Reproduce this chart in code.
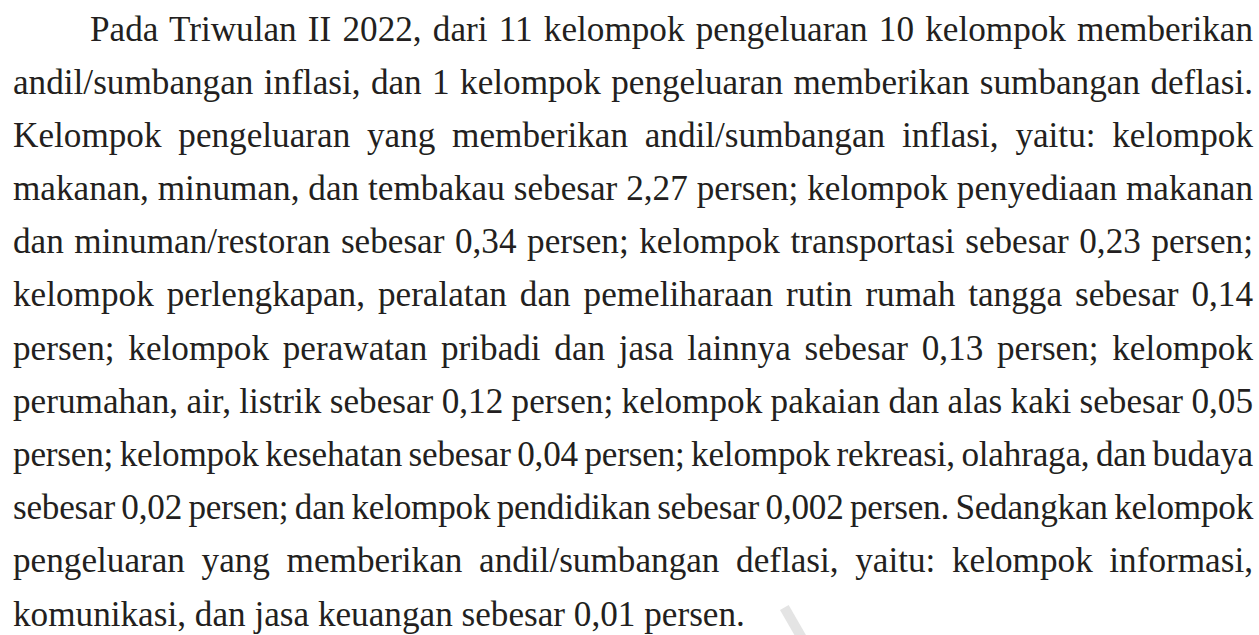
<!DOCTYPE html>
<html>
<head>
<meta charset="utf-8">
<script src="https://cdn.jsdelivr.net/npm/chart.js@4.4.0/dist/chart.umd.min.js"></script>
<style>
  html, body { margin: 0; padding: 0; background: #ffffff; width: 1259px; height: 635px; overflow: hidden; }
  #para { position: absolute; left: 13px; top: 2.5px; width: 1240px;
          font-family: "Liberation Serif", "Times New Roman", serif; font-size: 35.2px; color: #231f20; }
  .ln { height: 53.2px; line-height: 53.2px; white-space: nowrap; }
  .ln span { white-space: nowrap; }
  #wm { position: absolute; left: 780px; top: 610px; width: 10px; height: 40px; background: #e4e4e4;
        transform: rotate(-30deg); transform-origin: top left; }
</style>
</head>
<body>
<div id="para"></div>
<div id="wm"></div>
<script>
// ---- data ----
const quarter = "II";
const year = 2022;
const totalGroups = 11;
const inflationGroupCount = 10;
const deflationGroupCount = 1;
const inflationGroups = [
  "makanan, minuman, dan tembakau",
  "penyediaan makanan dan minuman/restoran",
  "transportasi",
  "perlengkapan, peralatan dan pemeliharaan rutin rumah tangga",
  "perawatan pribadi dan jasa lainnya",
  "perumahan, air, listrik",
  "pakaian dan alas kaki",
  "kesehatan",
  "rekreasi, olahraga, dan budaya",
  "pendidikan"
];
const inflationValues = [2.27, 0.34, 0.23, 0.14, 0.13, 0.12, 0.05, 0.04, 0.02, 0.002];
const deflationGroups = ["informasi, komunikasi, dan jasa keuangan"];
const deflationValues = [-0.01];
// words per printed line
const lineWordCounts = [11, 9, 8, 10, 10, 10, 11, 13, 11, 11, 8, 7];

// ---- build text ----
const fmt = v => String(Math.abs(v)).replace('.', ',');
const infItems = inflationGroups.map((g, i) =>
  (i === inflationGroups.length - 1 ? "dan " : "") + "kelompok " + g + " sebesar " + fmt(inflationValues[i]) + " persen");
const defItems = deflationGroups.map((g, i) => "kelompok " + g + " sebesar " + fmt(deflationValues[i]) + " persen");
const text =
  "Pada Triwulan " + quarter + " " + year + ", dari " + totalGroups + " kelompok pengeluaran " +
  inflationGroupCount + " kelompok memberikan andil/sumbangan inflasi, dan " + deflationGroupCount +
  " kelompok pengeluaran memberikan sumbangan deflasi. " +
  "Kelompok pengeluaran yang memberikan andil/sumbangan inflasi, yaitu: " + infItems.join("; ") + ". " +
  "Sedangkan kelompok pengeluaran yang memberikan andil/sumbangan deflasi, yaitu: " + defItems.join("; ") + ".";

const words = text.split(" ");
const para = document.getElementById("para");
const fullWidth = 1240;
const indent = 77;
const fontPx = 35.2;
let idx = 0;
lineWordCounts.forEach((n, li) => {
  const lineWords = words.slice(idx, idx + n);
  idx += n;
  const div = document.createElement("div");
  div.className = "ln";
  const span = document.createElement("span");
  span.textContent = lineWords.join(" ");
  div.appendChild(span);
  if (li === 0) div.style.paddingLeft = indent + "px";
  para.appendChild(div);
  if (li === lineWordCounts.length - 1) return;
  const target = fullWidth - (li === 0 ? indent : 0);
  const w = span.getBoundingClientRect().width;
  const spaces = lineWords.length - 1;
  if (w <= target) {
    span.style.wordSpacing = ((target - w) / spaces) + "px";
  } else {
    let over = w - target;
    const maxShrink = 0.06 * fontPx;
    const ws = Math.min(maxShrink, over / spaces);
    span.style.wordSpacing = (-ws) + "px";
    over -= ws * spaces;
    if (over > 0) {
      const chars = span.textContent.length;
      span.style.letterSpacing = (-over / chars) + "px";
    }
  }
});
</script>
</body>
</html>
